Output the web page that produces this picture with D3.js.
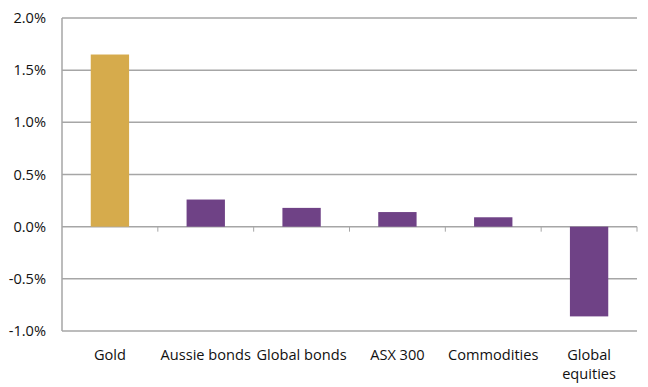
<!DOCTYPE html>
<html>
<head>
<meta charset="utf-8">
<script src="https://cdn.jsdelivr.net/npm/d3@7"></script>
<style>
  body { margin: 0; background: #fff; }
  svg text { font-family: "Open Sans", "Noto Sans", sans-serif; font-size: 14.6px; fill: #111; }
</style>
</head>
<body>
<svg id="chart" width="648" height="387"></svg>
<script>
// asset returns
let categories = ["Gold", "Aussie bonds", "Global bonds", "ASX 300", "Commodities", "Global equities"];
let values = [1.65, 0.26, 0.18, 0.14, 0.09, -0.86];
let barColors = ["#d6ab4c", "#6f4286", "#6f4286", "#6f4286", "#6f4286", "#6f4286"];
let yTicks = [-1.0, -0.5, 0.0, 0.5, 1.0, 1.5, 2.0];

let svg = d3.select("#chart");

let margin = {left: 62, right: 11, top: 18, bottom: 56};
let width = 648 - margin.left - margin.right;
let height = 387 - margin.top - margin.bottom;

let g = svg.append("g").attr("transform", "translate(" + margin.left + "," + margin.top + ")");

let x = d3.scaleBand().domain(categories).range([0, width]).paddingInner(0.6).paddingOuter(0.3);
let xOuter = d3.scaleBand().domain(categories).range([0, width]);
let y = d3.scaleLinear().domain([-1.0, 2.0]).range([height, 0]);

// gridlines
g.selectAll(".grid")
    .data(yTicks)
    .enter()
    .append("line")
    .attr("x1", 0)
    .attr("x2", width)
    .attr("y1", d => y(d))
    .attr("y2", d => y(d))
    .attr("stroke", "#a6a6a6")
    .attr("stroke-width", 1.5);

// y labels (plain hyphen for negatives)
g.selectAll(".ylab")
    .data(yTicks)
    .enter()
    .append("text")
    .attr("x", -16)
    .attr("y", d => y(d))
    .attr("dy", "0.35em")
    .attr("text-anchor", "end")
    .text(d => d.toFixed(1) + "%");

// bars
g.selectAll(".bar")
    .data(values)
    .enter()
    .append("rect")
    .attr("x", (d, i) => x(categories[i]))
    .attr("width", x.bandwidth())
    .attr("y", d => y(Math.max(0, d)))
    .attr("height", d => Math.abs(y(d) - y(0)))
    .attr("fill", (d, i) => barColors[i]);

// left axis line
g.append("line")
    .attr("x1", 0).attr("x2", 0)
    .attr("y1", 0).attr("y2", height)
    .attr("stroke", "#a6a6a6")
    .attr("stroke-width", 1.5);

// category tick marks on zero line
let boundaries = categories.map(c => xOuter(c) + xOuter.bandwidth());
g.selectAll(".tick")
    .data(boundaries)
    .enter()
    .append("line")
    .attr("x1", d => d).attr("x2", d => d)
    .attr("y1", y(0)).attr("y2", y(0) + 5)
    .attr("stroke", "#a6a6a6")
    .attr("stroke-width", 1);

// x labels
let xlab = g.selectAll(".xlab")
    .data(categories)
    .enter()
    .append("text")
    .attr("x", d => xOuter(d) + xOuter.bandwidth() / 2)
    .attr("y", height + 29)
    .attr("text-anchor", "middle");

xlab.each(function(d) {
    let lines = d === "Global equities" ? ["Global", "equities"] : [d];
    let t = d3.select(this);
    lines.forEach((l, i) => {
        t.append("tspan")
            .attr("x", t.attr("x"))
            .attr("dy", i === 0 ? 0 : 19)
            .text(l);
    });
});
</script>
</body>
</html>
